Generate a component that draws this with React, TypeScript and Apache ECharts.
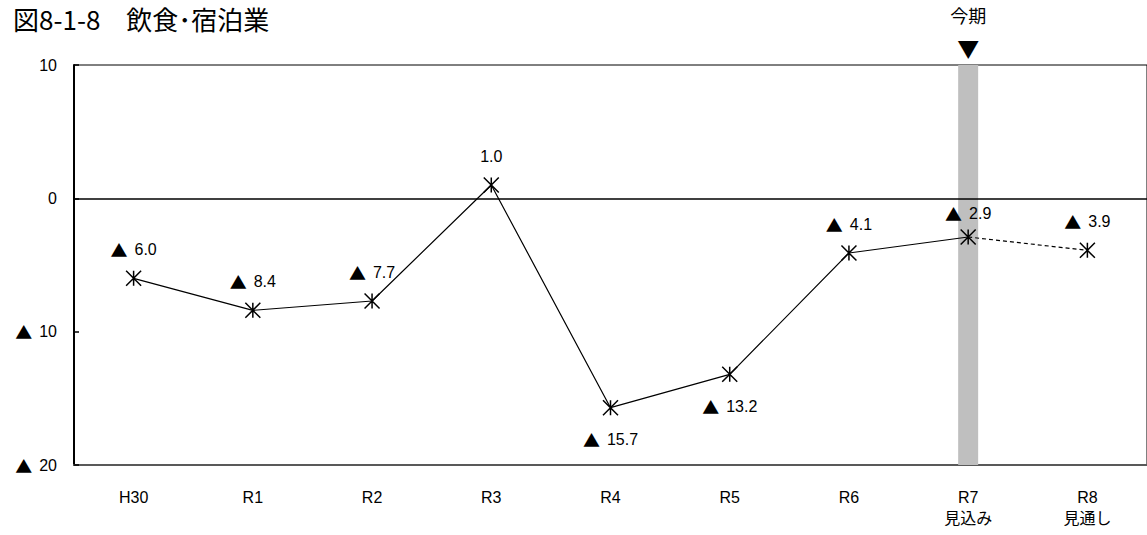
import React, { useEffect, useRef } from 'react';
import * as echarts from 'echarts';

const titleText = '図8-1-8　飲食･宿泊業';
const categories = ['H30', 'R1', 'R2', 'R3', 'R4', 'R5', 'R6', 'R7\n見込み', 'R8\n見通し'];
const values = [-6.0, -8.4, -7.7, 1.0, -15.7, -13.2, -4.1, -2.9, -3.9];
const currentIndex = 7; // 今期 (R7)
const currentLabel = '今期';
const yMin = -20;
const yMax = 10;
const yInterval = 10;
const labelsBelow = ['R4', 'R5'];

const FONT = '"Liberation Sans", "Noto Sans CJK JP", sans-serif';
const CJK = '"Noto Sans CJK JP", sans-serif';
const STAR = 'path://M0,0L16,16M16,0L0,16M8,0L8,16';

const triRich = {
  t: { fontFamily: CJK, fontSize: 17, color: '#000', width: 24, align: 'left' },
};
const fmt = (v: number, digits: number) =>
  v < 0 ? '{t|▲}' + Math.abs(v).toFixed(digits) : v.toFixed(digits);

export default function App() {
  const ref = useRef<HTMLDivElement>(null);
  useEffect(() => {
    if (!ref.current) return;
    const chart = echarts.init(ref.current, undefined, { renderer: 'svg' });

    const pointLabel = (i: number) => {
      const below = labelsBelow.includes(categories[i]);
      return {
        position: below ? 'bottom' : 'top',
        distance: below ? 15 : i === currentIndex ? 7 : 12,
      };
    };

    const mainData = values.map((v, i) =>
      i <= currentIndex ? { value: v, label: pointLabel(i) } : '-'
    );
    const forecastData = values.map((v, i) =>
      i >= currentIndex
        ? { value: v, label: { show: i > currentIndex, ...pointLabel(i) }, symbol: i > currentIndex ? STAR : 'none' }
        : '-'
    );

    const lineCommon = {
      type: 'line',
      symbol: STAR,
      symbolSize: 15,
      itemStyle: { color: '#000', borderColor: '#000', borderWidth: 1.5 },
      label: {
        show: true,
        formatter: (p: any) => fmt(p.value, 1),
        color: '#000',
        fontSize: 16,
        fontFamily: FONT,
        rich: triRich,
      },
      z: 5,
      silent: true,
    };

    chart.setOption({
      animation: false,
      title: {
        text: titleText,
        left: 8,
        top: 0,
        textStyle: { fontSize: 26, fontWeight: 'normal', color: '#000', fontFamily: CJK },
      },
      grid: {
        left: 74,
        top: 65,
        right: -1,
        bottom: 70,
        show: true,
        borderColor: '#000',
        borderWidth: 1,
      },
      xAxis: {
        type: 'category',
        data: categories,
        axisLine: { show: true, onZero: false, lineStyle: { color: '#595959', width: 2 } },
        axisTick: { show: false },
        axisLabel: { margin: 22, fontSize: 16, color: '#000', lineHeight: 21, fontFamily: FONT },
      },
      yAxis: {
        type: 'value',
        min: yMin,
        max: yMax,
        interval: yInterval,
        axisLine: { show: true, lineStyle: { color: '#000', width: 2 } },
        axisTick: { show: true, inside: true, length: 5, lineStyle: { color: '#000', width: 1.5 } },
        splitLine: { show: false },
        axisLabel: {
          margin: 17,
          fontSize: 16,
          color: '#000',
          fontFamily: FONT,
          rich: triRich,
          formatter: (v: number) => fmt(v, 0),
        },
      },
      series: [
        {
          type: 'bar',
          stack: 'band',
          barWidth: 20,
          silent: true,
          itemStyle: { color: '#BFBFBF' },
          data: categories.map((_, i) => (i === currentIndex ? yMax : '-')),
          label: {
            show: true,
            position: 'top',
            distance: 6,
            formatter: '{a|' + currentLabel + '}\n{b|▼}',
            rich: {
              a: { fontSize: 18, lineHeight: 40, color: '#000', fontFamily: CJK },
              b: { fontSize: 22, lineHeight: 24, color: '#000', fontFamily: CJK },
            },
          },
        },
        {
          type: 'bar',
          stack: 'band',
          barWidth: 20,
          silent: true,
          itemStyle: { color: '#BFBFBF' },
          data: categories.map((_, i) => (i === currentIndex ? yMin : '-')),
        },
        {
          ...lineCommon,
          data: mainData,
          lineStyle: { color: '#000', width: 1.2 },
          markLine: {
            silent: true,
            symbol: 'none',
            label: { show: false },
            lineStyle: { color: '#000', width: 1.5, type: 'solid' },
            data: [{ yAxis: 0 }],
          },
        },
        {
          ...lineCommon,
          data: forecastData,
          lineStyle: { color: '#000', width: 1.2, type: [4, 3] },
        },
      ],
    });
    return () => chart.dispose();
  }, []);

  return (
    <div
      ref={ref}
      style={{ position: 'absolute', left: 0, top: 0, width: 1147, height: 535, background: '#fff' }}
    />
  );
}
